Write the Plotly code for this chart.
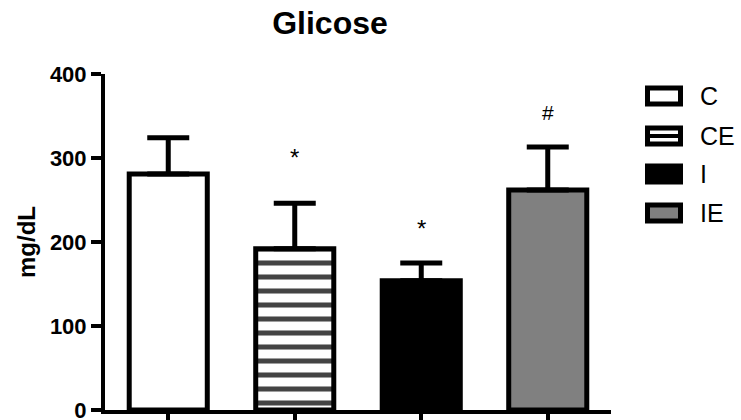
import plotly.graph_objects as go

# ---- data ----
categories = ["C", "CE", "I", "IE"]
glucose_mean = [281, 192, 154, 262]
glucose_sem = [43, 54, 21, 51]
sig_labels = ["", "*", "*", "#"]
sig_label_y = [None, 301, 216, 354]
y_ticks = [0, 100, 200, 300, 400]

# ---- layout geometry (pixels) ----
W, H = 741, 420
L, R, T, B = 105, 130, 74, 10
PW, PH = W - L - R, H - T - B

def px(x):
    return (x - L) / PW

def py(y):
    return (H - B - y) / PH

FONT = "Liberation Sans, Arial, sans-serif"

fig = go.Figure()
fig.add_trace(go.Bar(
    x=categories,
    y=glucose_mean,
    width=0.617,
    marker=dict(
        color=["white", "white", "black", "#808080"],
        line=dict(color="black", width=5),
        pattern=dict(
            shape=["", "-", "", ""],
            fgcolor="black",
            bgcolor="white",
            fgopacity=1,
            size=14,
            solidity=0.36,
        ),
    ),
    error_y=dict(
        type="data",
        array=glucose_sem,
        arrayminus=[0] * len(glucose_sem),
        symmetric=False,
        color="black",
        thickness=5,
        width=21,
    ),
    showlegend=False,
))

annotations = []
for cat, lab, yy in zip(categories, sig_labels, sig_label_y):
    if lab:
        annotations.append(dict(
            x=cat, y=yy, xref="x", yref="y", text=lab, showarrow=False,
            font=dict(family=FONT, size=24 if lab == "*" else 21, color="black"),
            xanchor="center", yanchor="middle",
        ))

# ---- custom legend ----
legend_rows = [(96, "C"), (136, "CE"), (174, "I"), (213, "IE")]
shapes = []
box_x0, box_x1 = 647.5, 680.5
for cy, name in legend_rows:
    fill = {"C": "white", "CE": "white", "I": "black", "IE": "#808080"}[name]
    shapes.append(dict(
        type="rect", xref="paper", yref="paper",
        x0=px(box_x0), x1=px(box_x1), y0=py(cy + 8), y1=py(cy - 8),
        line=dict(color="black", width=5), fillcolor=fill, layer="above",
    ))
    if name == "CE":
        shapes.append(dict(
            type="line", xref="paper", yref="paper",
            x0=px(box_x0), x1=px(box_x1), y0=py(cy), y1=py(cy),
            line=dict(color="black", width=4), layer="above",
        ))
    annotations.append(dict(
        x=px(698), y=py(cy), xref="paper", yref="paper", text=name,
        showarrow=False, xanchor="left", yanchor="middle",
        font=dict(family=FONT, size=25, color="black"),
    ))

fig.update_layout(
    width=W, height=H,
    margin=dict(l=L, r=R, t=T, b=B, pad=0, autoexpand=False),
    paper_bgcolor="white", plot_bgcolor="white",
    title=dict(
        text="<b>Glicose</b>", x=330 / W, xref="container", xanchor="center",
        y=1 - 23 / H, yref="container", yanchor="middle",
        font=dict(family=FONT, size=32, color="black"),
    ),
    xaxis=dict(
        type="category", range=[-0.5, 3.5], automargin=False,
        showline=True, linecolor="black", linewidth=4,
        ticks="outside", ticklen=9, tickwidth=4, tickcolor="black",
        showticklabels=False, showgrid=False, zeroline=False,
    ),
    yaxis=dict(
        range=[0, 400], tickvals=y_ticks, automargin=False,
        ticklabeloverflow="allow",
        showline=True, linecolor="black", linewidth=4,
        ticks="outside", ticklen=10, tickwidth=4, tickcolor="black",
        tickfont=dict(family=FONT, size=22, color="black", weight="bold"),
        title=dict(text="<b>mg/dL</b>", standoff=8,
                   font=dict(family=FONT, size=24, color="black")),
        showgrid=False, zeroline=False,
    ),
    annotations=annotations,
    shapes=shapes,
)

fig.write_html(
    "out.html",
    config={"displayModeBar": False},
    post_script="document.body.style.margin='0';document.body.style.overflow='hidden';",
)
